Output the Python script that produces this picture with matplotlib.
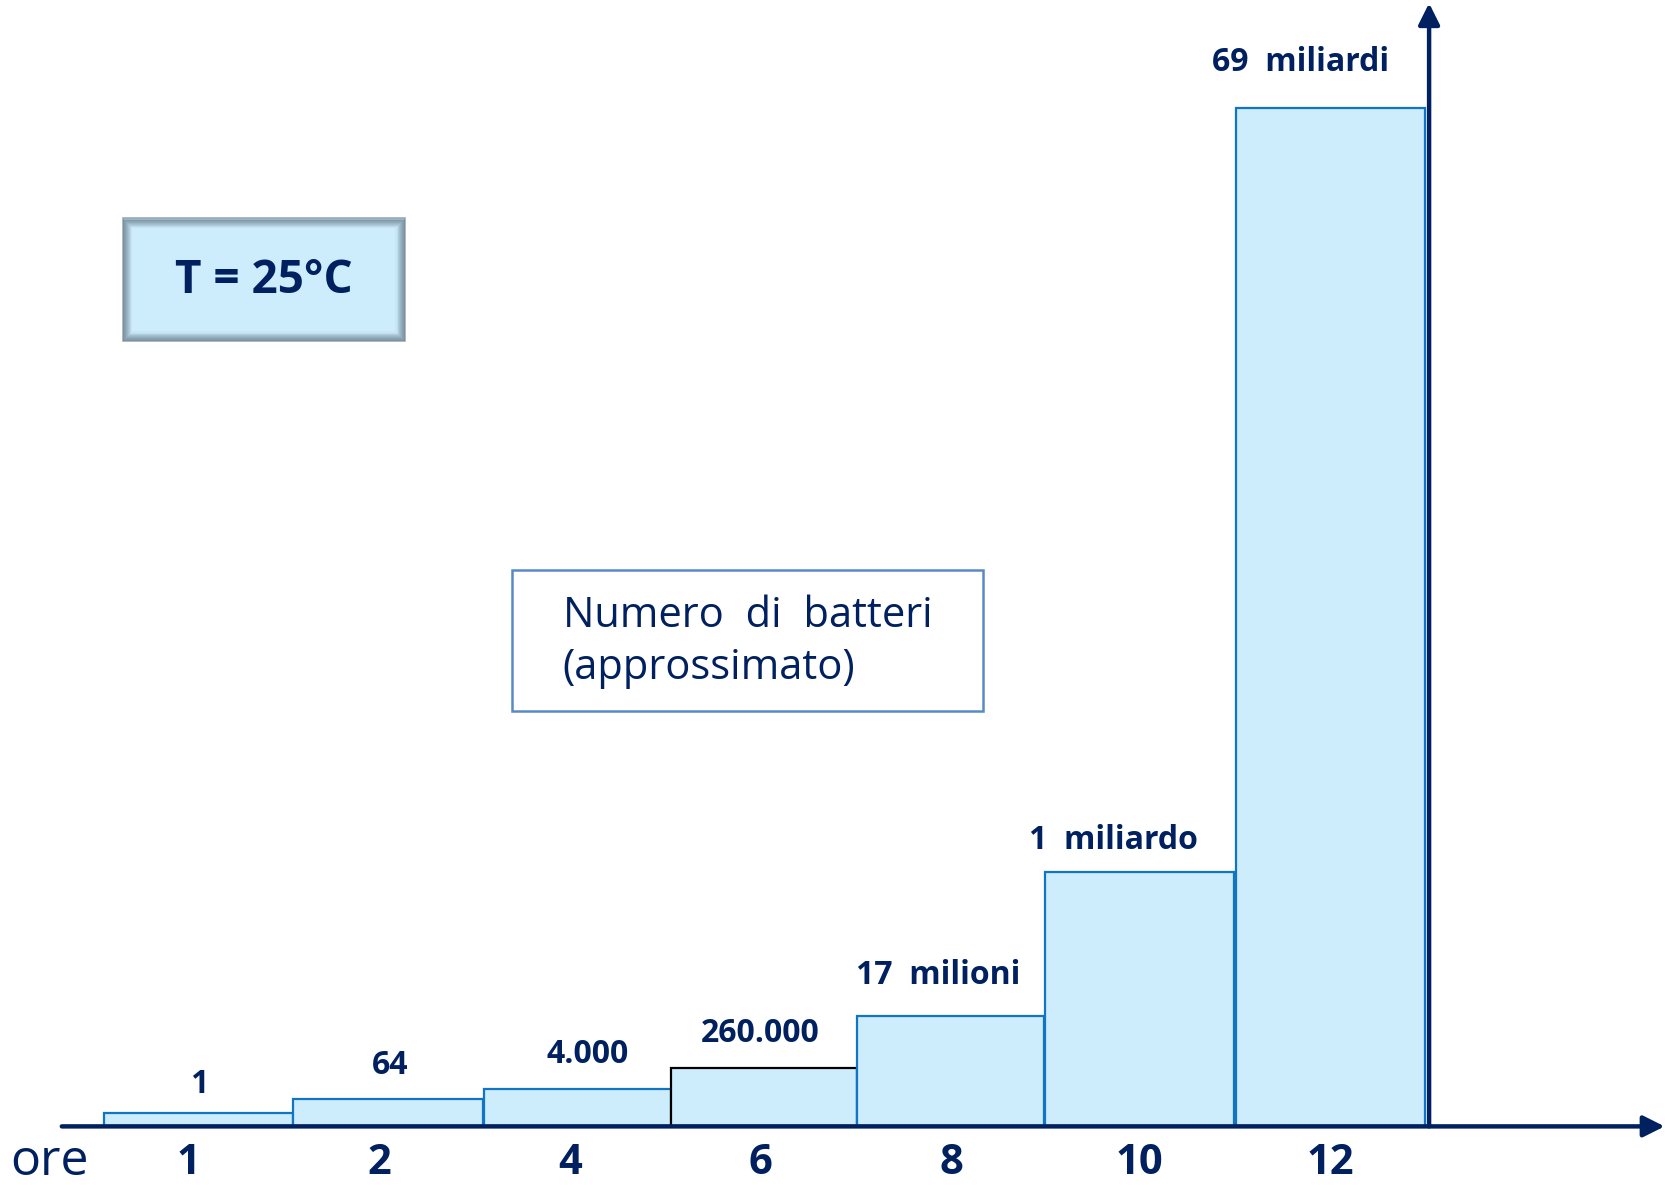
import matplotlib.pyplot as plt
from matplotlib.patches import Rectangle

# categories (hours) and bar labels
ore = ["1", "2", "4", "6", "8", "10", "12"]
etichette = ["1", "64", "4.000", "260.000", "17  milioni", "1  miliardo", "69  miliardi"]
# schematic bar heights (not to scale, as in the original drawing)
altezze = [13, 26, 35, 55, 104, 239, 956]

navy = "#002060"
fill = "#cdecfc"
edge = "#0f75c4"
plt.rcParams['font.family'] = ['Open Sans', 'DejaVu Sans']

fig = plt.figure(figsize=(16.71, 11.85), dpi=100)
ax = fig.add_axes([0, 0, 1, 1])
ax.set_xlim(0, 1568)
ax.set_ylim(-55, 1057)
ax.axis("off")

# bar positions and label placement
sinistra = [98, 275, 454, 630, 804, 981, 1160]
larghezza = [177, 178, 176, 174, 176, 177, 177]
tick_x = [177, 356, 535, 714, 893, 1069, 1248]
label_x = [187, 366, 551, 713, 880, 1045, 1220]
label_gap = [39, 57, 67, 87, 142, 268, 998]

for i in range(len(ore)):
    ec = "black" if i == 3 else edge
    ax.bar(sinistra[i], altezze[i], width=larghezza[i], align="edge", bottom=0,
           color=fill, edgecolor=ec, linewidth=1.6, zorder=2)
    ax.text(label_x[i], label_gap[i], etichette[i], ha="center", va="center",
            fontsize=23, fontweight="bold", color=navy, zorder=3)
    ax.text(tick_x[i], -35, ore[i], ha="center", va="center",
            fontsize=30, fontweight="bold", color=navy)

ax.text(10, -34, "ore", ha="left", va="center", fontsize=36, color=navy)

# axes with arrows
ax.annotate("", xy=(1562, 0), xytext=(58, 0),
            arrowprops=dict(arrowstyle="-|>", color=navy, lw=3.2, mutation_scale=32,
                            shrinkA=0, shrinkB=0), zorder=4)
ax.annotate("", xy=(1341, 1054), xytext=(1341, 0),
            arrowprops=dict(arrowstyle="-|>", color=navy, lw=3.2, mutation_scale=32,
                            shrinkA=0, shrinkB=0), zorder=4)

# temperature box with soft grey border
x0, y0, w, h = 115, 1057 - 320, 265, 115
ax.add_patch(Rectangle((x0, y0), w, h, facecolor=fill, edgecolor="none", zorder=1))
for k in range(9):
    ax.add_patch(Rectangle((x0 + k, y0 + k), w - 2 * k, h - 2 * k, facecolor="none",
                           edgecolor="#5f7282", alpha=0.6 * (1 - k / 9), linewidth=1.2, zorder=1))
ax.text(x0 + w / 2, 1057 - 263, "T = 25°C", ha="center", va="center",
        fontsize=33, fontweight="bold", color=navy, zorder=3)

# legend box
ax.add_patch(Rectangle((480, 1057 - 667), 442, 132, facecolor="white",
                       edgecolor="#5a8ac6", linewidth=1.8, zorder=1))
ax.text(528, 1057 - 578, "Numero  di  batteri", ha="left", va="center",
        fontsize=30, color=navy, zorder=3)
ax.text(528, 1057 - 627, "(approssimato)", ha="left", va="center",
        fontsize=30, color=navy, zorder=3)

plt.savefig("out.png", dpi=100)
